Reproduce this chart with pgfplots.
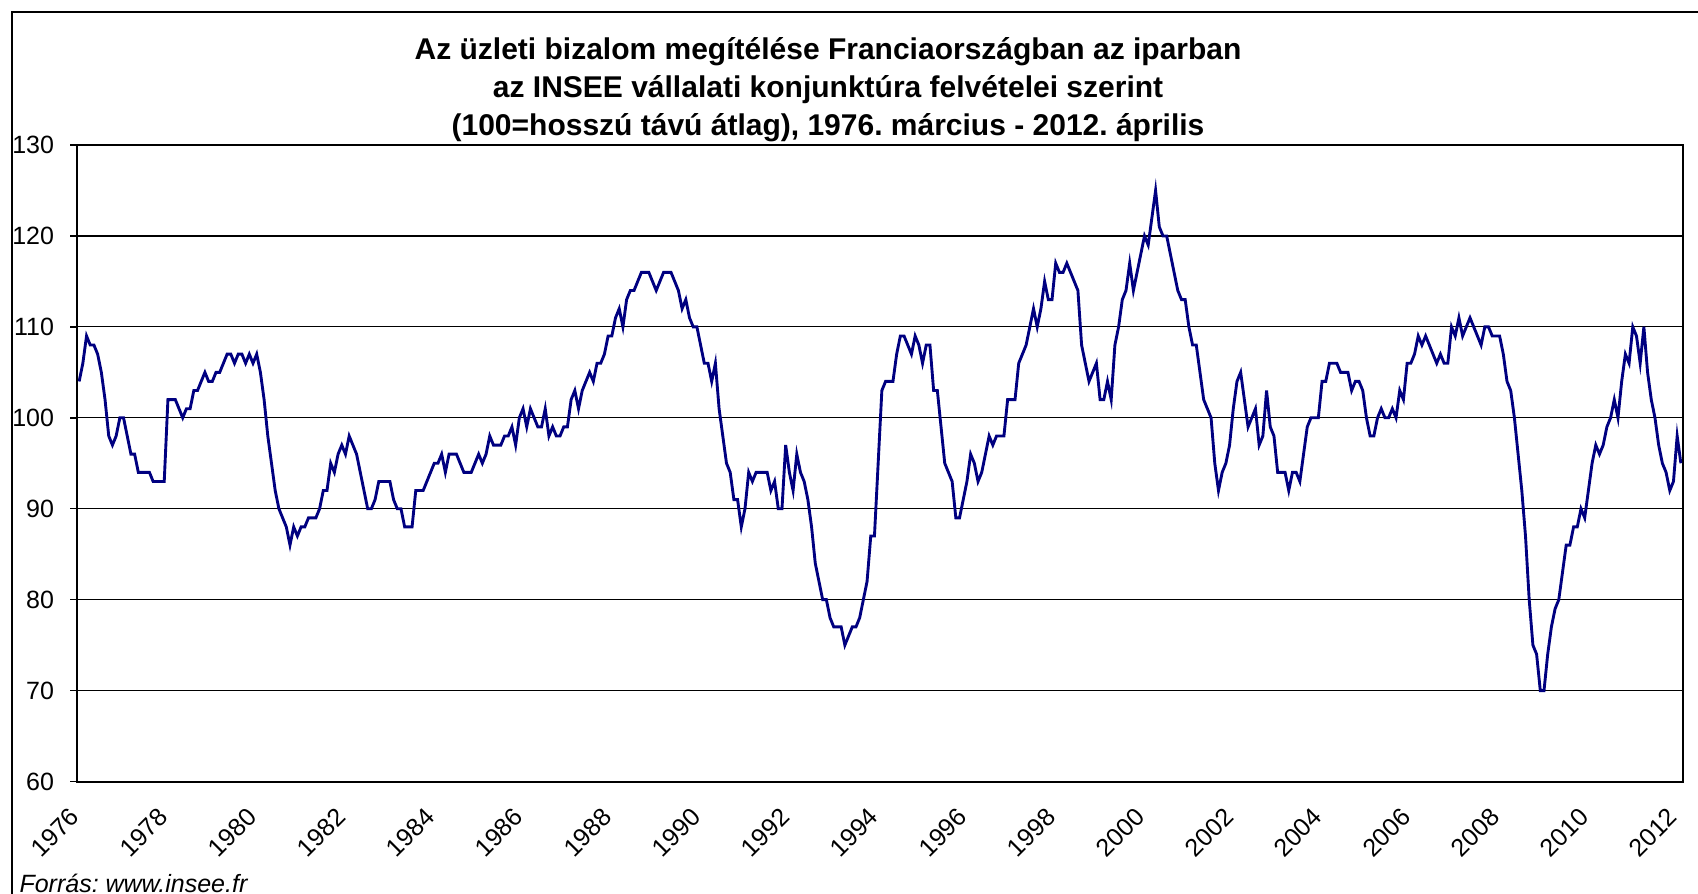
\documentclass[border=0pt]{standalone}
\usepackage{fontspec}
\setmainfont{Liberation Sans}
\usepackage{pgfplots}
\pgfplotsset{compat=1.18}
\definecolor{navyline}{RGB}{0,0,128}
\frenchspacing
\begin{document}
\begin{tikzpicture}
\useasboundingbox (-30.92pt,-44.6pt) rectangle (648.28pt,312.6pt);
\begin{axis}[
  at={(0pt,0pt)}, anchor=south west,
  scale only axis, width=642.16pt, height=254.6pt,
  xmin=-0.5, xmax=433.5, ymin=60, ymax=130,
  ytick={60,70,...,130},
  xtick={0,24,...,432},
  xticklabels={1976,1978,1980,1982,1984,1986,1988,1990,1992,1994,1996,1998,2000,2002,2004,2006,2008,2010,2012},
  ymajorgrids, grid style={black, line width=0.5pt},
  axis line style={black, line width=0.8pt},
  tick align=outside, ytick pos=left,
  major tick length=2.8pt,
  tick style={black, line width=0.6pt},
  major x tick style={draw=none},
  /pgf/number format/assume math mode=true,
  yticklabel style={font=\fontsize{10}{12}\selectfont, anchor=east, inner sep=0pt, xshift=-6.3pt},
  xticklabel style={font=\fontsize{10}{12}\selectfont, xshift=-4.3pt, yshift=-7pt, rotate=45, anchor=north east, inner sep=0pt},
]
\addplot[navyline, line width=1.15pt, mark=none] table[x expr=\coordindex, y index=0, header=false] {
104
106
109
108
108
107
105
102
98
97
98
100
100
98
96
96
94
94
94
94
93
93
93
93
102
102
102
101
100
101
101
103
103
104
105
104
104
105
105
106
107
107
106
107
107
106
107
106
107
105
102
98
95
92
90
89
88
86
88
87
88
88
89
89
89
90
92
92
95
94
96
97
96
98
97
96
94
92
90
90
91
93
93
93
93
91
90
90
88
88
88
92
92
92
93
94
95
95
96
94
96
96
96
95
94
94
94
95
96
95
96
98
97
97
97
98
98
99
97
100
101
99
101
100
99
99
101
98
99
98
98
99
99
102
103
101
103
104
105
104
106
106
107
109
109
111
112
110
113
114
114
115
116
116
116
115
114
115
116
116
116
115
114
112
113
111
110
110
108
106
106
104
106
101
98
95
94
91
91
88
90
94
93
94
94
94
94
92
93
90
90
97
94
92
96
94
93
91
88
84
82
80
80
78
77
77
77
75
76
77
77
78
80
82
87
87
95
103
104
104
104
107
109
109
108
107
109
108
106
108
108
103
103
99
95
94
93
89
89
91
93
96
95
93
94
96
98
97
98
98
98
102
102
102
106
107
108
110
112
110
112
115
113
113
117
116
116
117
116
115
114
108
106
104
105
106
102
102
104
102
108
110
113
114
117
114
116
118
120
119
122
125
121
120
120
118
116
114
113
113
110
108
108
105
102
101
100
95
92
94
95
97
101
104
105
102
99
100
101
97
98
103
99
98
94
94
94
92
94
94
93
96
99
100
100
100
104
104
106
106
106
105
105
105
103
104
104
103
100
98
98
100
101
100
100
101
100
103
102
106
106
107
109
108
109
108
107
106
107
106
106
110
109
111
109
110
111
110
109
108
110
110
109
109
109
107
104
103
100
96
92
87
80
75
74
70
70
74
77
79
80
83
86
86
88
88
90
89
92
95
97
96
97
99
100
102
100
104
107
106
110
109
106
110
105
102
100
97
95
94
92
93
98
95
};
\end{axis}
\draw[black, line width=0.8pt] (-26.3pt,-60pt) -- (-26.3pt,307.8pt) -- (660pt,307.8pt);
\node[anchor=base, font=\fontsize{12}{14.4}\selectfont\bfseries] at (300.3pt,288.8pt) {Az üzleti bizalom megítélése Franciaországban az iparban};
\node[anchor=base, font=\fontsize{12}{14.4}\selectfont\bfseries] at (300.3pt,273.8pt) {az INSEE vállalati konjunktúra felvételei szerint};
\node[anchor=base, font=\fontsize{12}{14.4}\selectfont\bfseries] at (300.3pt,258.6pt) {(100=hosszú távú átlag), 1976. március - 2012. április};
\node[anchor=base west, inner sep=0pt, font=\fontsize{10}{12}\selectfont\itshape] at (-23.3pt,-44.2pt) {Forrás: www.insee.fr};
\end{tikzpicture}
\end{document}
